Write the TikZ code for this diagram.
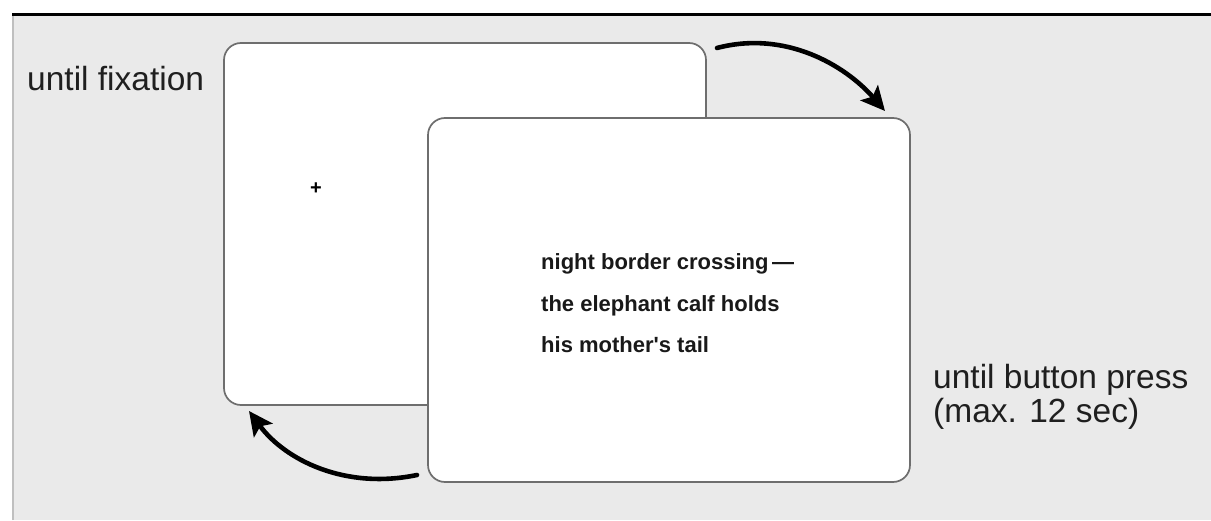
\documentclass[tikz,border=0pt]{standalone}
\usepackage{fontspec}
\setmainfont{Liberation Sans}
\usetikzlibrary{arrows.meta}
\definecolor{bggray}{HTML}{EAEAEA}
\definecolor{boxline}{HTML}{6E6E6E}
\tikzset{
  screen/.style={draw=boxline, line width=1.7pt, fill=white, rounded corners=17pt,
    minimum width=482pt, minimum height=362pt, inner sep=0pt},
  label/.style={font=\fontsize{33.5}{34}\selectfont, text=black!88, align=left, inner sep=0pt},
  poem/.style={font=\fontsize{22}{22}\bfseries\selectfont, text=black!90, inner sep=0pt, anchor=base west},
  flow/.style={line width=4.6pt, -{Stealth[length=24pt,width=23pt,inset=5pt]}, line cap=round}
}
\begin{document}
\begin{tikzpicture}[x=1pt,y=1pt]
\useasboundingbox (0,0) rectangle (1211,520);
\fill[bggray] (12,0) rectangle (1211,505);
\draw[black!25, line width=2pt] (13,0) -- (13,505);
\draw[black, line width=3pt] (12,505) -- (1211,505);
\node[screen] (box1) at (465,296) {};
\node[screen, minimum height=364pt] (box2) at (669,220) {};
\node[font=\fontsize{20}{20}\bfseries\selectfont, inner sep=0pt] (cross) at (316,331) {+};
\node[poem] (l1) at (541,250) {night border crossing\,—};
\node[poem] (l2) at (541,208) {the elephant calf holds};
\node[poem] (l3) at (541,167) {his mother\textquotesingle s tail};
\node[label, anchor=base west] (fix) at (27,429) {until fixation};
\node[label, anchor=base west] (press) at (933,97) {until button press\\(max. 12 sec)};
\coordinate (a1s) at (717,472);
\coordinate (a1e) at (885,409);
\coordinate (a2s) at (417,45);
\coordinate (a2e) at (249,109);
\draw[flow] (a1s) .. controls (785,490) and (845,455) .. (a1e);
\draw[flow] (a2s) .. controls (345,30) and (285,60) .. (a2e);
\end{tikzpicture}
\end{document}
